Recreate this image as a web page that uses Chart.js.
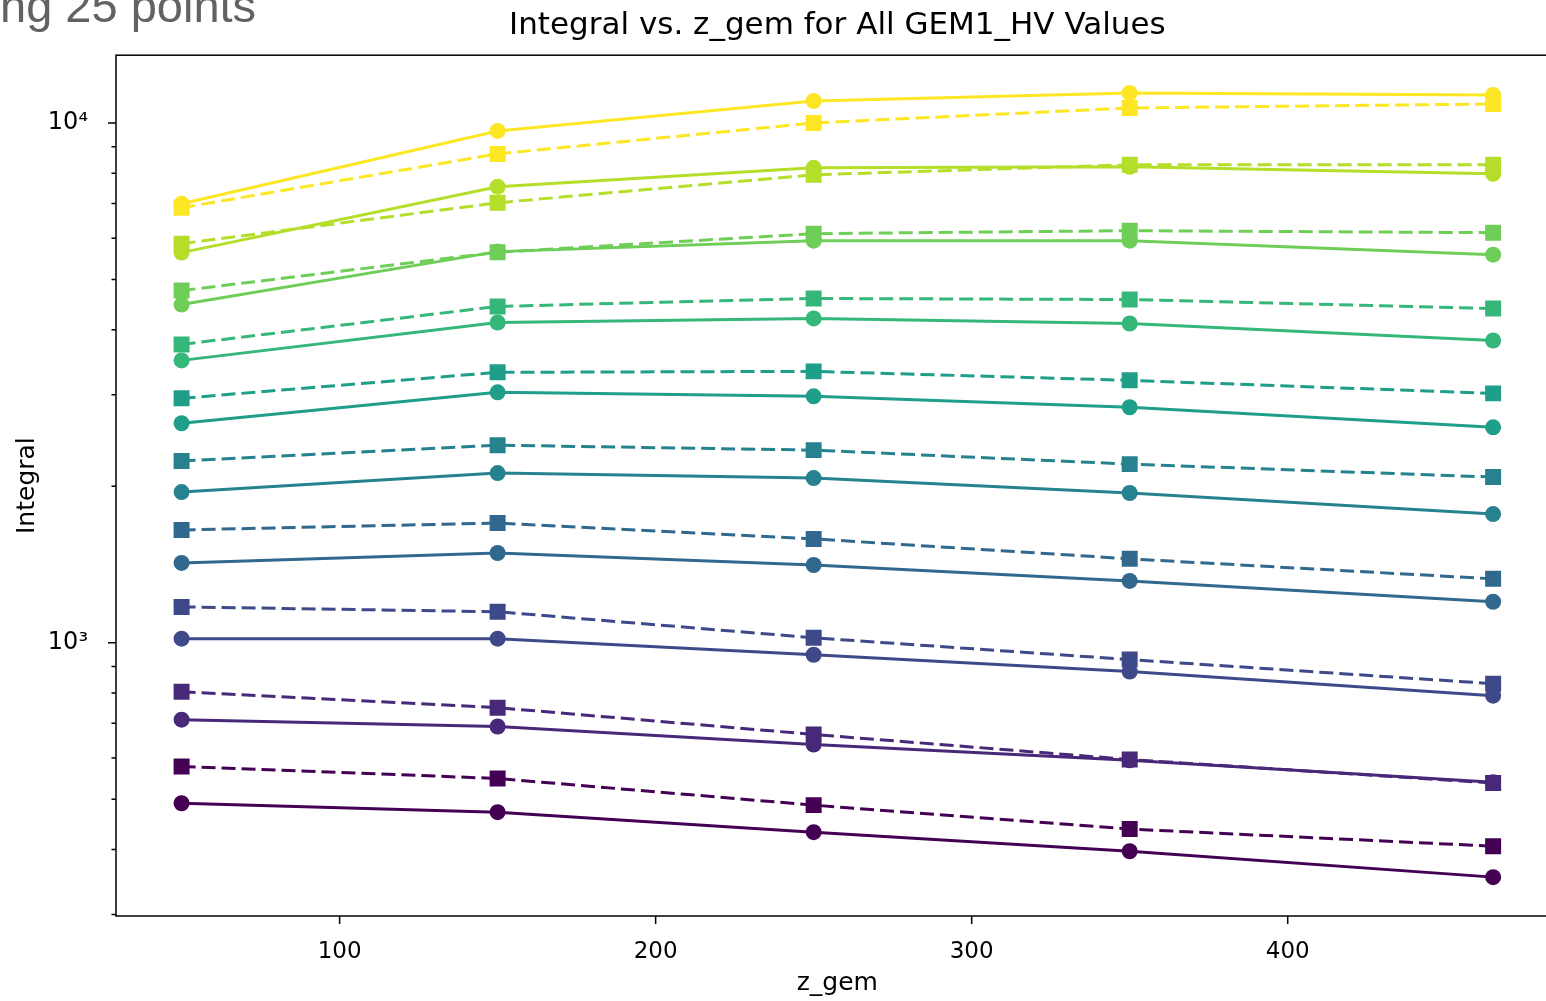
<!DOCTYPE html>
<html>
<head>
<meta charset="utf-8">
<title>Integral vs. z_gem</title>
<script src="https://cdn.jsdelivr.net/npm/chart.js@4.4.1/dist/chart.umd.min.js"></script>
<style>
    html, body { margin: 0; padding: 0; background: #fff; overflow: hidden; }
    #wrap { position: relative; width: 1570px; height: 1001px; }
    #slideText {
        position: absolute; left: 0; top: -18px;
        font: 47px/1 'Liberation Sans', Arial, sans-serif;
        color: #626262; white-space: nowrap;
    }
</style>
</head>
<body>
<div id="wrap">
    <canvas id="integralChart" width="1570" height="1001"></canvas>
    <div id="slideText">ng 25 points</div>
</div>
<script>
// z_gem positions
var zGem = [50, 150, 250, 350, 465];

// Integral per GEM1_HV value (lowest HV first): circle = solid line, square = dashed line
var hv1Circle = [491, 472, 432, 397, 354];
var hv1Square = [578, 548, 487, 438, 406];
var hv2Circle = [711, 690, 637, 594, 539];
var hv2Square = [805, 750, 666, 596, 537];
var hv3Circle = [1018, 1018, 948, 880, 791];
var hv3Square = [1172, 1147, 1022, 928, 834];
var hv4Circle = [1424, 1488, 1411, 1315, 1199];
var hv4Square = [1648, 1699, 1584, 1450, 1327];
var hv5Circle = [1949, 2120, 2074, 1941, 1768];
var hv5Square = [2236, 2399, 2347, 2206, 2083];
var hv6Circle = [2644, 3032, 2979, 2838, 2597];
var hv6Square = [2953, 3313, 3327, 3197, 3018];
var hv7Circle = [3493, 4131, 4206, 4113, 3815];
var hv7Square = [3749, 4436, 4595, 4574, 4395];
var hv8Circle = [4473, 5655, 5936, 5936, 5580];
var hv8Square = [4759, 5640, 6123, 6205, 6150];
var hv9Circle = [5630, 7539, 8197, 8234, 7983];
var hv9Square = [5858, 7022, 7947, 8308, 8308];
var hv10Circle = [6992, 9652, 11020, 11420, 11318];
var hv10Square = [6869, 8719, 10000, 10686, 10876];

// axis ticks
var xTickValues = [100, 200, 300, 400];
var yTickValues = [300, 400, 500, 600, 700, 800, 900, 1000, 2000, 3000, 4000, 5000, 6000, 7000, 8000, 9000, 10000];
var yTickLabels = { 1000: '10³', 10000: '10⁴' };

// viridis, one colour per HV value
var viridis = ['#440154', '#482878', '#3e4989', '#31688e', '#26828e',
               '#1f9e89', '#35b779', '#6ece58', '#b5de2b', '#fde725'];

var circleSeries = [hv1Circle, hv2Circle, hv3Circle, hv4Circle, hv5Circle,
                    hv6Circle, hv7Circle, hv8Circle, hv9Circle, hv10Circle];
var squareSeries = [hv1Square, hv2Square, hv3Square, hv4Square, hv5Square,
                    hv6Square, hv7Square, hv8Square, hv9Square, hv10Square];

function toPoints(values) {
    return zGem.map(function(z, j) { return { x: z, y: values[j] }; });
}

var datasets = [];
var plotIndex = 0;
for (var i = 0; i < circleSeries.length; i++) {
    datasets.push({
        label: 'GEM1_HV ' + (i + 1) + ' (o)',
        data: toPoints(circleSeries[i]),
        borderColor: viridis[i],
        backgroundColor: viridis[i],
        borderWidth: 3,
        pointStyle: 'circle',
        pointRadius: 8,
        pointBorderWidth: 0,
        order: 100 - plotIndex++
    });
    datasets.push({
        label: 'GEM1_HV ' + (i + 1) + ' (s)',
        data: toPoints(squareSeries[i]),
        borderColor: viridis[i],
        backgroundColor: viridis[i],
        borderWidth: 3,
        borderDash: [14, 6],
        pointStyle: 'rect',
        pointRadius: 11.3,
        pointBorderWidth: 0,
        order: 100 - plotIndex++
    });
}

// matplotlib-like frame and tick marks
var axesFrame = {
    id: 'axesFrame',
    afterDraw: function(chart) {
        var ctx = chart.ctx, a = chart.chartArea;
        var xs = chart.scales.x, ys = chart.scales.y;
        ctx.save();
        ctx.strokeStyle = '#000';
        ctx.lineWidth = 1.5;
        ctx.beginPath();
        xs.ticks.forEach(function(t) {
            var px = xs.getPixelForValue(t.value);
            ctx.moveTo(px, a.bottom);
            ctx.lineTo(px, a.bottom + 8);
        });
        ys.ticks.forEach(function(t) {
            var py = ys.getPixelForValue(t.value);
            ctx.moveTo(a.left, py);
            ctx.lineTo(a.left - (t.major ? 8 : 4.5), py);
        });
        ctx.stroke();
        ctx.strokeRect(a.left, a.top, a.right - a.left, a.bottom - a.top);
        ctx.restore();
    }
};

Chart.defaults.font.family = "'DejaVu Sans', sans-serif";
Chart.defaults.color = '#000';

var ctx = document.getElementById('integralChart').getContext('2d');
var integralChart = new Chart(ctx, {
    type: 'line',
    data: { datasets: datasets },
    plugins: [axesFrame],
    options: {
        responsive: false,
        animation: false,
        layout: { padding: { left: 0, right: 4, top: 0, bottom: 0 } },
        elements: { line: { tension: 0 } },
        plugins: {
            legend: { display: false },
            tooltip: { enabled: false },
            title: {
                display: true,
                text: 'Integral vs. z_gem for All GEM1_HV Values',
                color: '#000',
                fullSize: false,
                font: { size: 31, weight: 'normal' },
                padding: { top: 7, bottom: 11 }
            }
        },
        scales: {
            x: {
                type: 'linear',
                min: 29.25,
                max: 485.75,
                grid: { display: false },
                border: { display: false },
                afterBuildTicks: function(scale) {
                    scale.ticks = xTickValues.map(function(v) { return { value: v }; });
                },
                afterFit: function(scale) { scale.height = 85; },
                ticks: {
                    autoSkip: false,
                    maxRotation: 0,
                    padding: 14,
                    color: '#000',
                    font: { size: 23 }
                },
                title: {
                    display: true,
                    text: 'z_gem',
                    color: '#000',
                    font: { size: 25 },
                    padding: { top: 0, bottom: 3 }
                }
            },
            y: {
                type: 'logarithmic',
                min: 298,
                max: 13500,
                grid: { display: false },
                border: { display: false },
                afterBuildTicks: function(scale) {
                    scale.ticks = yTickValues.map(function(v) {
                        return { value: v, major: yTickLabels[v] !== undefined };
                    });
                },
                afterFit: function(scale) { scale.width = 116; },
                ticks: {
                    autoSkip: false,
                    padding: 20,
                    color: '#000',
                    font: { size: 24 },
                    callback: function(value) {
                        return yTickLabels[value] || '';
                    }
                },
                title: {
                    display: true,
                    text: 'Integral',
                    color: '#000',
                    font: { size: 25 },
                    padding: { top: 12, bottom: 0 }
                }
            }
        }
    }
});
</script>
</body>
</html>
